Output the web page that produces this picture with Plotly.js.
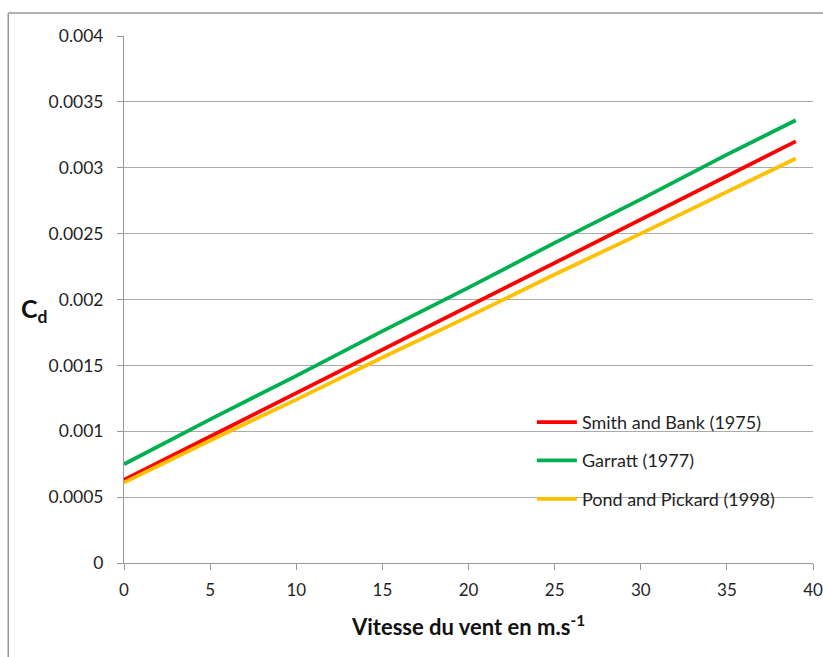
<!DOCTYPE html>
<html>
<head>
<meta charset="utf-8">
<script src="https://cdn.plot.ly/plotly-3.0.1.min.js"></script>
<style>html,body{margin:0;padding:0;background:#fff;}#chart{width:823px;height:657px;}</style>
</head>
<body>
<div id="chart"></div>
<script>
// Wind speed (m/s) and drag coefficient values
const windSpeed = [0, 5, 10, 15, 20, 25, 30, 35, 39];
const smithBank = [0.00063, 0.00096, 0.00129, 0.00162, 0.00195, 0.00228, 0.00261, 0.00294, 0.00320];
const garratt   = [0.00075, 0.00109, 0.00142, 0.00176, 0.00209, 0.00243, 0.00276, 0.00310, 0.00336];
const pondPickard = [0.00061, 0.00093, 0.00124, 0.00156, 0.00187, 0.00219, 0.00250, 0.00282, 0.00307];
const seriesNames = ['Smith and Bank (1975)', 'Garratt (1977)', 'Pond and Pickard (1998)'];
const yTickVals = [0, 0.0005, 0.001, 0.0015, 0.002, 0.0025, 0.003, 0.0035, 0.004];
const yTickText = ['0', '0.0005', '0.001', '0.0015', '0.002', '0.0025', '0.003', '0.0035', '0.004'];
const xTickVals = [0, 5, 10, 15, 20, 25, 30, 35, 40];

const FONT = 'Lato, "Open Sans", sans-serif';
const colors = ['#FF0000', '#00B050', '#FFC000'];
const ys = [smithBank, garratt, pondPickard];

const traces = ys.map((y, i) => ({
  x: windSpeed, y: y, type: 'scatter', mode: 'lines', name: seriesNames[i],
  legendgroup: 'g' + i,
  line: {color: colors[i], width: 3.8}
}));

const layout = {
  width: 823, height: 657,
  margin: {l: 124, r: 10, t: 36, b: 94},
  paper_bgcolor: '#fff', plot_bgcolor: '#fff',
  font: {family: FONT, size: 17, color: '#1f1f1f'},
  showlegend: true,
  legend: {x: 0.592, y: 0.302, xanchor: 'left', yanchor: 'top', bgcolor: 'rgba(0,0,0,0)',
           font: {family: FONT, size: 18, color: '#1f1f1f'}, traceorder: 'grouped', tracegroupgap: 12, itemwidth: 40},
  xaxis: {
    range: [0, 40], tickvals: xTickVals, ticks: 'outside', ticklen: 6, tickcolor: '#999',
    showline: true, linecolor: '#999', linewidth: 1, showgrid: false, zeroline: false,
    ticklabelstandoff: 6, tickfont: {size: 17},
    title: {text: '<b>Vitesse du vent en m.s<sup>-1</sup></b>', font: {family: FONT, size: 22, color: '#111'}, standoff: 20}
  },
  yaxis: {
    range: [0, 0.004], tickvals: yTickVals, ticktext: yTickText, ticks: 'outside', ticklen: 6, tickcolor: '#999',
    showline: true, linecolor: '#999', linewidth: 1, showgrid: true, gridcolor: '#aaa', gridwidth: 1,
    zeroline: false, ticklabelstandoff: 10, tickfont: {size: 17.5}
  },
  annotations: [{
    xref: 'paper', yref: 'paper', x: -0.13, y: 0.48, xanchor: 'center', yanchor: 'middle',
    text: '<b>C<sub>d</sub></b>', showarrow: false, font: {family: FONT, size: 25, color: '#111'}
  }],
  shapes: [
    {type: 'line', xref: 'paper', yref: 'paper', x0: -0.168, x1: 1.02, y0: 1.0436, y1: 1.0436, line: {color: '#999', width: 1.5}},
    {type: 'line', xref: 'paper', yref: 'paper', x0: -0.168, x1: -0.168, y0: 1.0436, y1: -0.19, line: {color: '#999', width: 1.5}}
  ]
};

Plotly.newPlot('chart', traces, layout, {displayModeBar: false, staticPlot: true});
</script>
</body>
</html>
